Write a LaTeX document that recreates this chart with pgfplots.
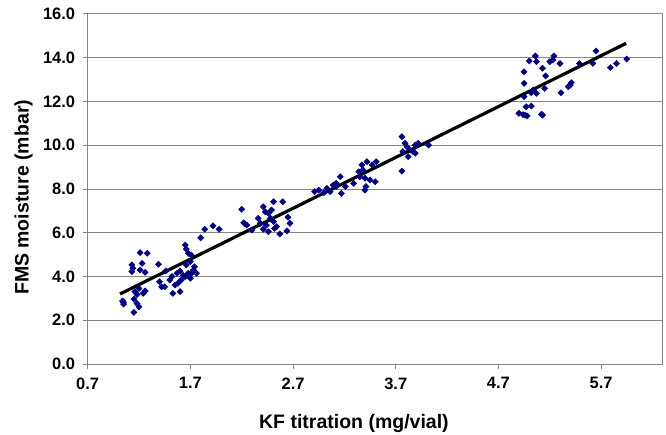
\documentclass[border=0pt]{standalone}
\usepackage{fontspec}
\setmainfont{Liberation Sans}
\usepackage{pgfplots}
\pgfplotsset{compat=1.18}
\definecolor{ptnavy}{RGB}{0,0,128}
\definecolor{gridgray}{RGB}{134,134,134}

\pgfplotstableread{
x y
1.047 2.82
1.05 2.74
1.04 2.88
1.15 2.36
1.20 2.62
1.18 2.77
1.15 2.97
1.16 3.31
1.18 3.18
1.26 3.34
1.24 3.23
1.20 3.45
1.13 4.53
1.14 4.37
1.23 4.60
1.21 4.30
1.26 4.19
1.21 5.09
1.28 5.06
1.13 4.22
1.39 4.56
1.40 3.76
1.42 3.53
1.45 3.53
1.50 3.84
1.53 3.23
1.55 3.61
1.60 3.31
1.58 3.69
1.57 4.15
1.61 3.84
1.60 4.25
1.66 4.53
1.65 3.99
1.70 3.92
1.68 4.15
1.71 4.15
1.73 4.30
1.76 4.15
1.65 5.44
1.66 5.26
1.68 5.06
1.71 4.98
1.70 4.68
1.74 4.45
1.80 5.77
1.84 6.16
1.92 6.32
1.98 6.16
1.52 4.00
1.46 4.25
1.63 4.05
2.20 7.07
2.22 6.46
2.23 6.41
2.25 6.35
2.30 6.13
2.36 6.66
2.38 6.43
2.41 7.19
2.43 6.96
2.46 6.89
2.49 7.04
2.51 7.42
2.60 7.42
2.48 6.66
2.51 6.51
2.41 6.16
2.46 6.05
2.54 6.28
2.57 5.94
2.65 6.71
2.67 6.43
2.64 6.09
2.52 6.20
2.44 6.35
2.91 7.88
2.95 7.95
3.00 7.83
3.03 8.03
3.06 7.88
3.09 8.18
3.12 8.26
3.16 8.56
3.17 7.80
3.21 8.11
3.12 8.11
3.29 8.26
3.34 8.79
3.37 9.10
3.38 8.87
3.42 9.25
3.47 9.10
3.51 9.25
3.40 8.49
3.41 8.11
3.40 7.95
3.45 8.41
3.50 8.33
3.35 8.56
3.76 10.39
3.76 8.82
3.77 9.71
3.81 9.93
3.82 9.48
3.84 9.78
3.87 9.71
3.89 10.01
3.92 10.09
3.89 9.63
4.02 10.01
3.79 10.09
4.95 13.36
4.95 12.83
5.00 13.85
5.06 14.08
5.07 13.82
5.13 13.52
5.16 13.17
5.15 12.60
5.04 12.53
5.07 12.37
5.02 12.40
4.95 12.22
4.97 11.76
5.02 11.79
4.90 11.46
4.96 11.38
4.94 11.40
4.98 11.34
5.13 11.38
5.12 11.42
5.20 13.82
5.24 14.08
5.23 13.90
5.30 13.74
5.31 12.40
5.38 12.68
5.40 12.75
5.41 12.86
5.49 13.74
5.62 13.74
5.65 14.31
5.79 13.55
5.85 13.74
5.95 13.94
}\kfdata

\begin{document}
\begin{tikzpicture}
\path[use as bounding box] (-87.7pt,-70pt) rectangle (578.3pt,364pt);
\begin{axis}[
    scale only axis,
    width=575pt, height=350pt,
    xmin=0.7, xmax=6.3,
    ymin=0, ymax=16,
    xtick={0.7,1.7,2.7,3.7,4.7,5.7},
    ytick={0,2,4,6,8,10,12,14,16},
    xtick pos=bottom, ytick pos=left,
    tick align=outside,
    major tick length=5pt,
    ymajorgrids,
    major grid style={gridgray, line width=1pt},
    axis line style={gridgray, line width=1pt},
    tick style={gridgray, line width=1pt},
    /pgf/number format/fixed,
    /pgf/number format/fixed zerofill,
    /pgf/number format/precision=1,
    /pgf/number format/assume math mode=true,
    tick label style={font=\fontsize{16.5}{18}\selectfont\bfseries, black},
    xticklabel style={yshift=-5pt},
    yticklabel style={xshift=-4pt},
    xlabel={KF titration (mg/vial)},
    ylabel={FMS moisture (mbar)},
    label style={font=\fontsize{19.5}{22}\selectfont\bfseries},
    xlabel style={at={([yshift=-59pt]axis description cs:0.463,0)}, anchor=center},
    ylabel style={at={([xshift=-64pt]axis description cs:0,0.476)}, anchor=center},
    clip=false,
]
\addplot[only marks, mark=square*, mark size=2.2pt,
         mark options={rotate=45, fill=ptnavy, draw=ptnavy}]
    table[x=x, y=y] {\kfdata};
\addplot[black, line width=3.2pt] coordinates {(1.015,3.2) (5.944,14.66)};
\end{axis}
\end{tikzpicture}
\end{document}
